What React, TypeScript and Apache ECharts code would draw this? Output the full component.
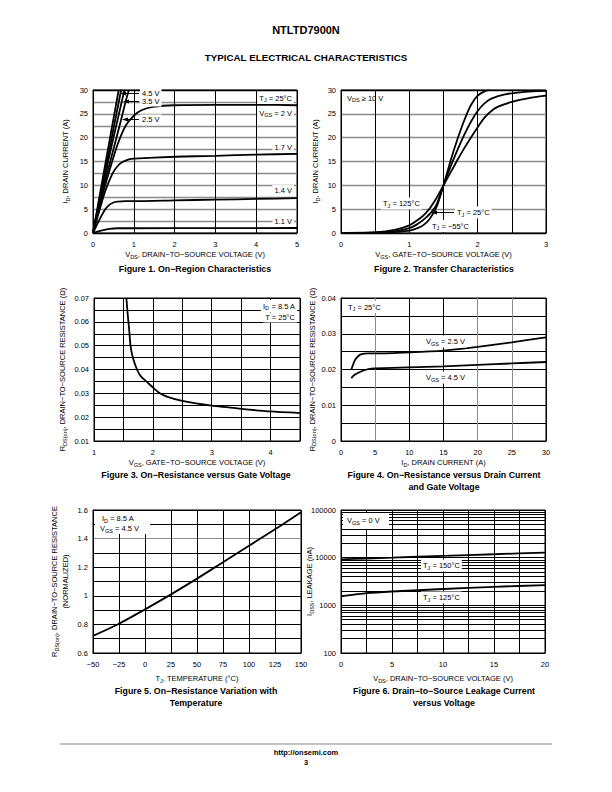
import React, { useEffect, useRef } from 'react';
import * as echarts from 'echarts';

const FONT = '"Liberation Sans", Arial, Helvetica, sans-serif';
const GRAY = '#8c8c8c';
const BLK = '#000';

// ---------- Figure 1: On-Region Characteristics (VDS, ID) ----------
const fig1_VGS45 = [[0, 0], [0.3, 14.4], [0.63, 30]];
const fig1_VGS35 = [[0, 0], [0.35, 15.3], [0.69, 30]];
const fig1_VGS3 = [[0, 0], [0.4, 16.2], [0.77, 30]];
const fig1_VGS25 = [[0, 0], [0.3, 11], [0.5, 17.5], [0.69, 23.8], [0.8, 27.6], [0.88, 30]];
const fig1_VGS2 = [[0, 0], [0.2, 7], [0.4, 13], [0.6, 18.5], [0.8, 22.5], [1, 24.6], [1.2, 25.8], [1.5, 26.5], [2, 26.8], [3, 26.9], [4, 26.9], [5, 26.8]];
const fig1_VGS17 = [[0, 0], [0.1, 3], [0.2, 6], [0.3, 8.8], [0.4, 11], [0.5, 12.8], [0.6, 14], [0.7, 14.8], [0.8, 15.2], [0.9, 15.5], [1, 15.6], [2, 16.0], [3, 16.2], [4, 16.45], [5, 16.6]];
const fig1_VGS14 = [[0, 0], [0.1, 1.8], [0.2, 3.5], [0.3, 5.0], [0.4, 5.9], [0.5, 6.4], [0.6, 6.6], [0.8, 6.7], [1, 6.7], [2, 6.85], [3, 7.0], [4, 7.15], [5, 7.3]];
const fig1_VGS11 = [[0, 0], [0.2, 0.5], [0.4, 0.85], [0.6, 1.0], [1, 1.0], [3, 1.02], [5, 1.05]];

// ---------- Figure 2: Transfer Characteristics (VGS, ID) ----------
const fig2_TJm55 = [[0, 0], [0.5, 0.05], [0.8, 0.2], [1.0, 0.5], [1.1, 0.9], [1.2, 1.6], [1.3, 3], [1.4, 5.5], [1.5, 10], [1.6, 15], [1.7, 19.5], [1.8, 23.5], [1.9, 26.8], [2.0, 28.8], [2.1, 29.7], [2.17, 30]];
const fig2_TJ25 = [[0, 0], [0.5, 0.1], [0.8, 0.4], [1.0, 1.0], [1.1, 1.7], [1.2, 2.7], [1.3, 4], [1.4, 6], [1.5, 10], [1.6, 13.8], [1.7, 17.3], [1.8, 20.5], [1.9, 23.3], [2.0, 25.6], [2.1, 27.2], [2.2, 28.2], [2.4, 29.1], [2.7, 29.6], [3, 29.8]];
const fig2_TJ125 = [[0, 0], [0.5, 0.15], [0.8, 0.7], [1.0, 1.6], [1.1, 2.5], [1.2, 3.6], [1.3, 5.2], [1.4, 7.4], [1.5, 10], [1.6, 12.6], [1.7, 15.2], [1.8, 17.7], [1.9, 20], [2.0, 22.2], [2.1, 24.2], [2.2, 25.6], [2.3, 26.5], [2.5, 27.5], [2.75, 28.3], [3, 28.8]];

// ---------- Figure 3: RDS(on) vs VGS ----------
const fig3_RDS = [[1.55, 0.07], [1.57, 0.064], [1.6, 0.056], [1.62, 0.05], [1.66, 0.045], [1.73, 0.04], [1.8, 0.037], [1.89, 0.035], [2.0, 0.0325], [2.12, 0.030], [2.25, 0.0285], [2.5, 0.0268], [3.0, 0.0248], [3.5, 0.0235], [4.0, 0.0224], [4.5, 0.0217]];

// ---------- Figure 4: RDS(on) vs ID ----------
const fig4_VGS25 = [[1.5, 0.0199], [2, 0.0225], [2.5, 0.0237], [3, 0.0243], [4, 0.0245], [5, 0.0245], [10, 0.0248], [15, 0.0253], [20, 0.0263], [25, 0.0276], [30, 0.029]];
const fig4_VGS45 = [[1.5, 0.0176], [2, 0.0185], [3, 0.0195], [4, 0.0201], [5, 0.0203], [10, 0.0206], [15, 0.0209], [20, 0.0213], [25, 0.0217], [30, 0.0221]];

// ---------- Figure 5: RDS(on) normalized vs TJ ----------
const fig5_RDSnorm = [[-50, 0.72], [-25, 0.805], [0, 0.905], [25, 1.01], [50, 1.12], [75, 1.235], [100, 1.35], [125, 1.465], [150, 1.585]];

// ---------- Figure 6: IDSS vs VDS (log) ----------
const fig6_TJ150 = [[0, 9200], [2.5, 9600], [5, 10000], [10, 10900], [15, 11800], [20, 12800]];
const fig6_TJ125 = [[0, 1550], [2.5, 1800], [5, 1950], [10, 2200], [15, 2450], [20, 2650]];
const fig6_MinorLines = [200, 300, 400, 500, 600, 700, 800, 900, 2000, 3000, 4000, 5000, 6000, 7000, 8000, 9000, 20000, 30000, 40000, 50000, 60000, 70000, 80000, 90000];

const SUB = { fontSize: 5.5, fontFamily: FONT, color: '#000', fill: '#000', padding: [4, 0, 0, 0] };

const GRIDS = [
  { left: 93, top: 90, width: 204, height: 143 },
  { left: 341, top: 90, width: 205, height: 143 },
  { left: 94, top: 298, width: 206, height: 143 },
  { left: 341, top: 298, width: 205, height: 143 },
  { left: 93, top: 510, width: 208, height: 143 },
  { left: 341, top: 510, width: 204, height: 143 },
];

function axis(kind: 'x' | 'y', gi: number, cfg: any) {
  return {
    type: cfg.type || 'value',
    gridIndex: gi,
    min: cfg.min,
    max: cfg.max,
    interval: cfg.interval,
    logBase: cfg.logBase,
    name: cfg.name,
    nameLocation: 'middle',
    nameGap: cfg.nameGap,
    nameMoveOverlap: cfg.moveOverlap ?? true,
    nameTextStyle: { fontSize: 7.5, fontFamily: FONT, color: '#000', lineHeight: 11, rich: { s: SUB } },
    axisLine: { show: true, onZero: false, lineStyle: { color: '#000', width: 1 } },
    axisTick: { show: false },
    axisLabel: {
      fontSize: 7.5, fontFamily: FONT, color: '#000', margin: kind === 'x' ? 7 : 5,
      formatter: cfg.fmt, showMinLabel: true, showMaxLabel: true, hideOverlap: false,
    },
    splitLine: { show: true, lineStyle: { color: cfg.colors, width: cfg.lw ?? 1 } },
    minorTick: { show: false },
  };
}

function ln(gi: number, data: number[][], smooth: number | false = 0.2, extra: any = {}) {
  return {
    type: 'line', xAxisIndex: gi, yAxisIndex: gi, data,
    symbol: 'none', showSymbol: false, silent: true, animation: false,
    smooth, clip: true,
    lineStyle: { color: '#000', width: 1.8 }, z: 3, ...extra,
  };
}

function T(x: number, y: number, text: string, o: any = {}) {
  return {
    type: 'text', x, y, z: 100,
    style: {
      text, fontSize: o.fs ?? 7.5, fontFamily: FONT, fontWeight: o.fw ?? 'normal', fill: '#000',
      align: o.align ?? 'left', verticalAlign: 'middle',
      backgroundColor: o.bg, padding: o.bg ? [1, 2, 1, 2] : 0,
      rich: { s: { fontSize: 5.5, fontFamily: FONT, fill: '#000', padding: [4, 0, 0, 0] } },
    },
  };
}
function L(x1: number, y1: number, x2: number, y2: number, o: any = {}) {
  return { type: 'line', z: 100, shape: { x1, y1, x2, y2 }, style: { stroke: o.c ?? '#000', lineWidth: o.w ?? 1 } };
}
function arrowLeft(x: number, y: number) {
  return { type: 'polygon', z: 100, shape: { points: [[x, y], [x + 6, y - 2], [x + 6, y + 2]] }, style: { fill: '#000' } };
}
function R(x: number, y: number, w: number, h: number) {
  return { type: 'rect', z: 99, shape: { x, y, width: w, height: h }, style: { fill: '#fff' } };
}

const rep = (n: number, c: string) => Array.from({ length: n }, () => c);
const minus = (v: number) => (v < 0 ? '−' + String(-v) : String(v));

export default function App() {
  const ref = useRef<HTMLDivElement>(null);
  useEffect(() => {
    if (!ref.current) return;
    const chart = echarts.init(ref.current, undefined, { renderer: 'svg' });

    const fig1Y = [BLK, ...rep(11, GRAY), BLK];
    const fig2Y = [BLK, ...rep(5, GRAY), BLK];
    const fig4X = [BLK, GRAY, BLK, BLK, GRAY, GRAY, BLK];
    const fig5Y = [BLK, BLK, BLK, BLK, BLK, BLK, BLK, BLK, GRAY, BLK, BLK];

    const intLabel = (v: number) => (Math.abs(v - Math.round(v)) < 1e-6 ? String(Math.round(v)) : '');

    const option: any = {
      animation: false,
      backgroundColor: '#fff',
      grid: GRIDS.map((g) => ({ ...g, show: true, borderColor: '#000', borderWidth: 1, backgroundColor: 'transparent', containLabel: false })),
      xAxis: [
        axis('x', 0, { min: 0, max: 5, interval: 1, colors: BLK, nameGap: 16, name: 'V{s|DS}, DRAIN−TO−SOURCE VOLTAGE (V)' }),
        axis('x', 1, { min: 0, max: 3, interval: 0.5, colors: BLK, nameGap: 16, fmt: intLabel, name: 'V{s|GS}, GATE−TO−SOURCE VOLTAGE (V)' }),
        axis('x', 2, { min: 1, max: 4.5, interval: 0.5, colors: BLK, nameGap: 16, fmt: intLabel, name: 'V{s|GS}, GATE−TO−SOURCE VOLTAGE (V)' }),
        axis('x', 3, { min: 0, max: 30, interval: 5, colors: fig4X, nameGap: 16, name: 'I{s|D}, DRAIN CURRENT (A)' }),
        axis('x', 4, { min: -50, max: 150, interval: 25, colors: BLK, nameGap: 20, fmt: minus, name: 'T{s|J}, TEMPERATURE (°C)' }),
        axis('x', 5, { min: 0, max: 20, interval: 2.5, colors: BLK, nameGap: 20, fmt: (v: number) => (Math.abs(v % 5) < 1e-6 ? String(v) : ''), name: 'V{s|DS}, DRAIN−TO−SOURCE VOLTAGE (V)' }),
      ],
      yAxis: [
        axis('y', 0, { min: 0, max: 30, interval: 2.5, colors: fig1Y, lw: 1.3, nameGap: 22, fmt: (v: number) => (Math.abs(v % 5) < 1e-6 ? String(v) : ''), name: 'I{s|D}, DRAIN CURRENT (A)' }),
        axis('y', 1, { min: 0, max: 30, interval: 5, colors: fig2Y, lw: 1.3, nameGap: 20, name: 'I{s|D}, DRAIN CURRENT (A)' }),
        axis('y', 2, { min: 0.01, max: 0.07, interval: 0.005, colors: BLK, nameGap: 26, fmt: (v: number) => (Math.round(v * 1000) % 10 === 0 ? v.toFixed(2) : ''), name: 'R{s|DS(on)}, DRAIN−TO−SOURCE RESISTANCE (Ω)' }),
        axis('y', 3, { min: 0, max: 0.04, interval: 0.005, colors: BLK, nameGap: 23, fmt: (v: number) => (v === 0 ? '0' : Math.round(v * 1000) % 10 === 0 ? v.toFixed(2) : ''), name: 'R{s|DS(on)}, DRAIN−TO−SOURCE RESISTANCE (Ω)' }),
        axis('y', 4, { min: 0.6, max: 1.6, interval: 0.1, colors: fig5Y, nameGap: 22, fmt: (v: number) => (Math.round(v * 10) % 2 === 0 ? String(Math.round(v * 10) / 10) : ''), name: 'R{s|DS(on)}, DRAIN−TO−SOURCE RESISTANCE\n(NORMALIZED)' }),
        axis('y', 5, { type: 'log', logBase: 10, min: 100, max: 100000, colors: BLK, nameGap: 26, moveOverlap: false, fmt: (v: number) => String(Math.round(v)), name: 'I{s|DSS}, LEAKAGE (nA)' }),
      ],
      series: [
        ln(0, fig1_VGS45, false),
        ln(0, fig1_VGS35, false),
        ln(0, fig1_VGS3, false),
        ln(0, fig1_VGS25),
        ln(0, fig1_VGS2),
        ln(0, fig1_VGS17),
        ln(0, fig1_VGS14),
        ln(0, fig1_VGS11),
        ln(1, fig2_TJm55),
        ln(1, fig2_TJ25),
        ln(1, fig2_TJ125),
        ln(2, fig3_RDS),
        ln(3, fig4_VGS25),
        ln(3, fig4_VGS45),
        ln(4, fig5_RDSnorm, 0.3),
        ln(5, fig6_TJ150),
        ln(5, fig6_TJ125, 0.2, {
          markLine: {
            silent: true, symbol: 'none', label: { show: false }, animation: false,
            lineStyle: { color: '#000', width: 1, type: 'solid' },
            data: fig6_MinorLines.map((v) => ({ yAxis: v })),
          },
        }),
      ],
      graphic: [
        // header
        T(306, 30, 'NTLTD7900N', { fs: 11, fw: 'bold', align: 'center' }),
        T(306, 57, 'TYPICAL ELECTRICAL CHARACTERISTICS', { fs: 9.8, fw: 'bold', align: 'center' }),
        // fig 1 annotations
        T(294, 98, 'T{s|J} = 25°C', { align: 'right', bg: '#fff' }),
        T(294, 113, 'V{s|GS} = 2 V', { align: 'right', bg: '#fff' }),
        T(294, 147, '1.7 V', { align: 'right', bg: '#fff' }),
        T(294, 190, '1.4 V', { align: 'right', bg: '#fff' }),
        T(294, 221, '1.1 V', { align: 'right', bg: '#fff' }),
        L(121, 93.5, 139, 93.5), arrowLeft(120, 93.5),
        T(140, 93.5, '4.5 V', { bg: '#fff' }),
        L(124, 101.5, 139, 101.5), arrowLeft(123, 101.5),
        T(140, 101.5, '3.5 V', { bg: '#fff' }),
        L(123, 119.5, 139, 119.5), arrowLeft(122, 119.5),
        T(140, 119.5, '2.5 V', { bg: '#fff' }),
        T(195, 269, 'Figure 1. On−Region Characteristics', { fs: 8.8, fw: 'bold', align: 'center' }),
        // fig 2 annotations
        T(347, 98, 'V{s|DS} ≥ 10 V', {}),
        T(381, 203.5, 'T{s|J} = 125°C', { bg: '#fff' }),
        L(433, 212.5, 454, 212.5), arrowLeft(431, 212.5),
        T(455, 212.5, 'T{s|J} = 25°C', { bg: '#fff' }),
        T(430, 226, 'T{s|J} = −55°C', { bg: '#fff' }),
        T(444, 269, 'Figure 2. Transfer Characteristics', { fs: 8.8, fw: 'bold', align: 'center' }),
        // fig 3 annotations
        T(297, 306, 'I{s|D} = 8.5 A', { align: 'right', bg: '#fff' }),
        T(297, 317.5, 'T = 25°C', { align: 'right', bg: '#fff' }),
        T(196, 475, 'Figure 3. On−Resistance versus Gate Voltage', { fs: 8.8, fw: 'bold', align: 'center' }),
        // fig 4 annotations
        T(346, 307, 'T{s|J} = 25°C', { bg: '#fff' }),
        T(424, 341.5, 'V{s|GS} = 2.5 V', { bg: '#fff' }),
        T(424, 377.5, 'V{s|GS} = 4.5 V', { bg: '#fff' }),
        T(444, 475, 'Figure 4. On−Resistance versus Drain Current', { fs: 8.8, fw: 'bold', align: 'center' }),
        T(444, 487, 'and Gate Voltage', { fs: 8.8, fw: 'bold', align: 'center' }),
        // fig 5 annotations
        R(95, 511, 55, 23),
        T(102, 518.5, 'I{s|D} = 8.5 A', {}),
        T(100, 528.5, 'V{s|GS} = 4.5 V', {}),
        T(196, 691, 'Figure 5. On−Resistance Variation with', { fs: 8.8, fw: 'bold', align: 'center' }),
        T(196, 703, 'Temperature', { fs: 8.8, fw: 'bold', align: 'center' }),
        // fig 6 annotations
        R(343, 513, 46, 16),
        T(347, 520.5, 'V{s|GS} = 0 V', {}),
        T(421, 565.5, 'T{s|J} = 150°C', { bg: '#fff' }),
        T(421, 597.5, 'T{s|J} = 125°C', { bg: '#fff' }),
        T(444, 691, 'Figure 6. Drain−to−Source Leakage Current', { fs: 8.8, fw: 'bold', align: 'center' }),
        T(444, 703, 'versus Voltage', { fs: 8.8, fw: 'bold', align: 'center' }),
        // footer
        L(60, 744, 552, 744, { c: '#b0b0b0', w: 1.5 }),
        T(306, 752, 'http://onsemi.com', { fs: 7.5, fw: 'bold', align: 'center' }),
        T(306, 762, '3', { fs: 7.5, fw: 'bold', align: 'center' }),
      ],
    };
    chart.setOption(option);
    return () => chart.dispose();
  }, []);
  return <div ref={ref} style={{ position: 'absolute', left: 0, top: 0, width: 612, height: 792, background: '#fff' }} />;
}
